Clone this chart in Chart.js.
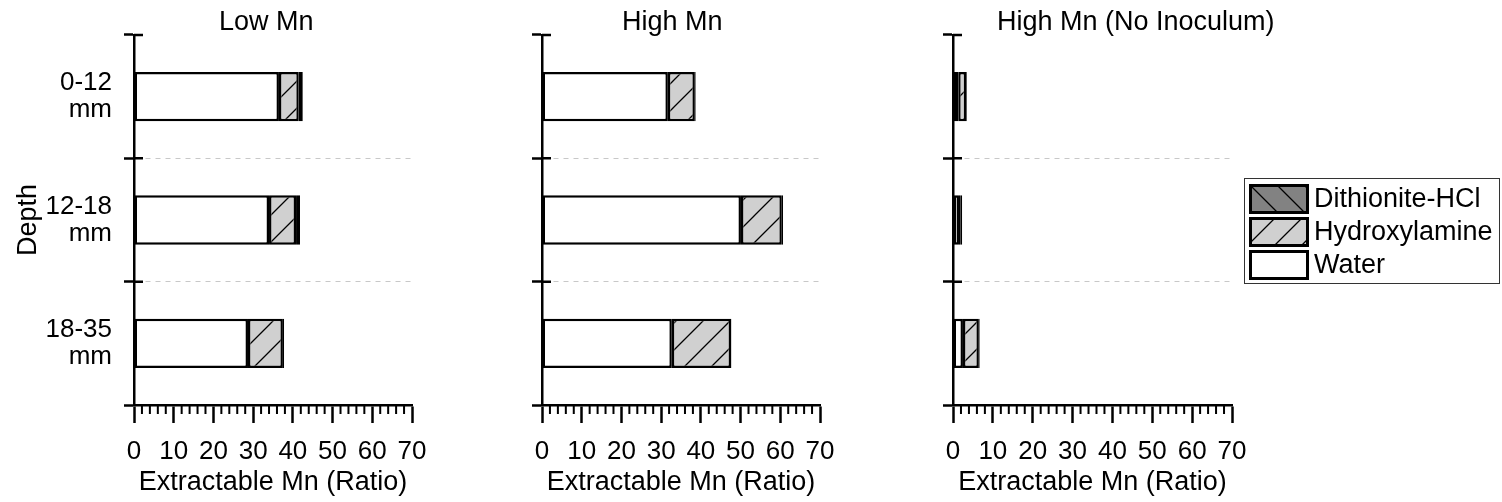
<!DOCTYPE html>
<html>
<head>
<meta charset="utf-8">
<script src="https://cdn.jsdelivr.net/npm/chart.js@4.4.0/dist/chart.umd.min.js"></script>
<style>
  body { margin: 0; background: #fff; width: 1502px; height: 502px; position: relative; overflow: hidden;
         font-family: "Liberation Sans", Arial, sans-serif; }
  .panel { position: absolute; top: 0; height: 502px; }
  #legend { position: absolute; left: 1244px; top: 178px; width: 256px; height: 106px;
            border: 1.5px solid #333; box-sizing: border-box; padding: 3px 0 0 4px; background: #fff; }
  .row { display: flex; align-items: center; height: 33px; }
  .row canvas { width: 60px; height: 30px; margin-right: 5px; }
  .row span { font-size: 27px; color: #000; }
</style>
</head>
<body>
<canvas id="c1" class="panel" style="left:0px;width:430px"></canvas>
<canvas id="c2" class="panel" style="left:430px;width:410px"></canvas>
<canvas id="c3" class="panel" style="left:840px;width:662px"></canvas>
<div id="legend"></div>
<script>
// Data
const depthLabels = [['0-12', 'mm'], ['12-18', 'mm'], ['18-35', 'mm']];
const panelTitles = ['Low Mn', 'High Mn', 'High Mn (No Inoculum)'];
const seriesNames = ['Water', 'Hydroxylamine', 'Dithionite-HCl'];
const xTicks = [0, 10, 20, 30, 40, 50, 60, 70];
const minorStep = 2;

const lowWater = [36.5, 34.0, 28.7];
const lowHydrox = [5.0, 6.8, 8.8];
const lowDith = [1.0, 1.0, 0.3];

const highWater = [31.7, 50.1, 32.7];
const highHydrox = [6.8, 10.3, 14.9];
const highDith = [0.2, 0.3, 0.1];

const noInocWater = [1.3, 1.5, 2.5];
const noInocHydrox = [2.0, 0.3, 4.0];
const noInocDith = [0.2, 0.5, 0.2];

const FONT = '"Liberation Sans", Arial, sans-serif';

// hatch fill: dir 1 = '/', dir -1 = '\'
function hatch(bg, dir) {
  const s = 27;
  const c = document.createElement('canvas');
  c.width = s; c.height = s;
  const g = c.getContext('2d');
  g.fillStyle = bg;
  g.fillRect(0, 0, s, s);
  if (dir) {
    g.strokeStyle = '#000';
    g.lineWidth = 1.3;
    g.beginPath();
    if (dir > 0) {
      g.moveTo(0, s); g.lineTo(s, 0);
      g.moveTo(-2, 2); g.lineTo(2, -2);
      g.moveTo(s - 2, s + 2); g.lineTo(s + 2, s - 2);
    } else {
      g.moveTo(0, 0); g.lineTo(s, s);
      g.moveTo(s - 2, -2); g.lineTo(s + 2, 2);
      g.moveTo(-2, s - 2); g.lineTo(2, s + 2);
    }
    g.stroke();
  }
  return g.createPattern(c, 'repeat');
}

const fillSpecs = [['#ffffff', 0], ['#d0d0d0', 1], ['#828282', -1]];
const fills = fillSpecs.map(f => f[1] ? hatch(f[0], f[1]) : f[0]);

// extra marks: inward half of the depth ticks, minor x ticks, panel title
const axisExtras = {
  id: 'axisExtras',
  afterDraw(chart, args, opts) {
    const { ctx, chartArea } = chart;
    const x = chart.scales.x, y = chart.scales.y;
    ctx.save();
    ctx.strokeStyle = '#000';
    ctx.lineWidth = 2.5;
    ctx.beginPath();
    for (let i = 0; i < depthLabels.length; i++) {
      const py = y.getPixelForValue(i - 0.5);
      ctx.moveTo(chartArea.left, py);
      ctx.lineTo(chartArea.left + 9, py);
    }
    ctx.stroke();
    ctx.lineWidth = 2;
    ctx.beginPath();
    for (let v = xTicks[0]; v <= xTicks[xTicks.length - 1]; v += minorStep) {
      if (v % 10 === 0) continue;
      const px = x.getPixelForValue(v);
      ctx.moveTo(px, x.top);
      ctx.lineTo(px, x.top + 9);
    }
    ctx.stroke();
    ctx.fillStyle = '#000';
    ctx.font = '27px ' + FONT;
    ctx.textAlign = 'left';
    ctx.textBaseline = 'middle';
    ctx.fillText(opts.title, chartArea.left + opts.titleX, 23);
    ctx.restore();
  }
};

function makePanel(id, title, titleX, water, hydrox, dith, showLabels, yWidth, padRight) {
  const values = [water, hydrox, dith];
  new Chart(document.getElementById(id), {
    type: 'bar',
    data: {
      labels: depthLabels,
      datasets: seriesNames.map((name, i) => ({
        label: name,
        data: values[i],
        backgroundColor: fills[i],
        borderColor: '#000',
        borderWidth: 2.5,
        borderSkipped: false,
        barPercentage: 0.4,
        categoryPercentage: 1
      }))
    },
    options: {
      indexAxis: 'y',
      responsive: false,
      animation: false,
      events: [],
      layout: { padding: { top: 35, right: padRight, left: 0, bottom: 0 } },
      plugins: {
        legend: { display: false },
        tooltip: { enabled: false },
        axisExtras: { title: title, titleX: titleX }
      },
      scales: {
        x: {
          type: 'linear',
          stacked: true,
          min: xTicks[0],
          max: xTicks[xTicks.length - 1],
          afterFit: s => { s.height = 97; s.paddingLeft = 0; s.paddingRight = 0; },
          ticks: { stepSize: 10, color: '#000', padding: 13, font: { size: 26, family: FONT } },
          grid: { drawOnChartArea: false, tickLength: 18, tickWidth: 2.5, tickColor: '#000' },
          border: { color: '#000', width: 2.5 },
          title: { display: true, text: 'Extractable Mn (Ratio)', color: '#000',
                   font: { size: 27, family: FONT }, padding: { top: 0, bottom: 3 } }
        },
        y: {
          type: 'category',
          stacked: true,
          offset: true,
          afterFit: s => { s.width = yWidth; s.paddingTop = 0; s.paddingBottom = 0; },
          ticks: { display: showLabels, color: '#000', padding: 12,
                   font: { size: 26, family: FONT, lineHeight: 1.04 } },
          grid: {
            offset: true,
            color: ctx => (ctx.index === 1 || ctx.index === 2) ? '#c8c8c8' : 'rgba(0,0,0,0)',
            lineWidth: 1,
            tickLength: 10,
            tickWidth: 2.5,
            tickColor: '#000',
            tickBorderDash: []
          },
          border: { color: '#000', width: 2.5, dash: [5, 5] },
          title: { display: showLabels, text: 'Depth', color: '#000',
                   font: { size: 27, family: FONT }, padding: { top: 12, bottom: 0 } }
        }
      }
    },
    plugins: [axisExtras]
  });
}

const sizes = { c1: 430, c2: 410, c3: 662 };
Object.keys(sizes).forEach(id => {
  const cv = document.getElementById(id);
  cv.width = sizes[id];
  cv.height = 502;
});

makePanel('c1', panelTitles[0], 85, lowWater, lowHydrox, lowDith, true, 134, 18);
makePanel('c2', panelTitles[1], 80, highWater, highHydrox, highDith, false, 112, 20);
makePanel('c3', panelTitles[2], 44, noInocWater, noInocHydrox, noInocDith, false, 113, 270);

// Legend (top to bottom: Dithionite-HCl, Hydroxylamine, Water)
const legend = document.getElementById('legend');
for (let i = seriesNames.length - 1; i >= 0; i--) {
  const row = document.createElement('div');
  row.className = 'row';
  const sw = document.createElement('canvas');
  sw.width = 60; sw.height = 30;
  const g = sw.getContext('2d');
  g.fillStyle = fills[i];
  g.fillRect(0, 0, 60, 30);
  g.strokeStyle = '#000';
  g.lineWidth = 3;
  g.strokeRect(1.5, 1.5, 57, 27);
  const label = document.createElement('span');
  label.textContent = seriesNames[i];
  row.appendChild(sw);
  row.appendChild(label);
  legend.appendChild(row);
}
</script>
</body>
</html>
